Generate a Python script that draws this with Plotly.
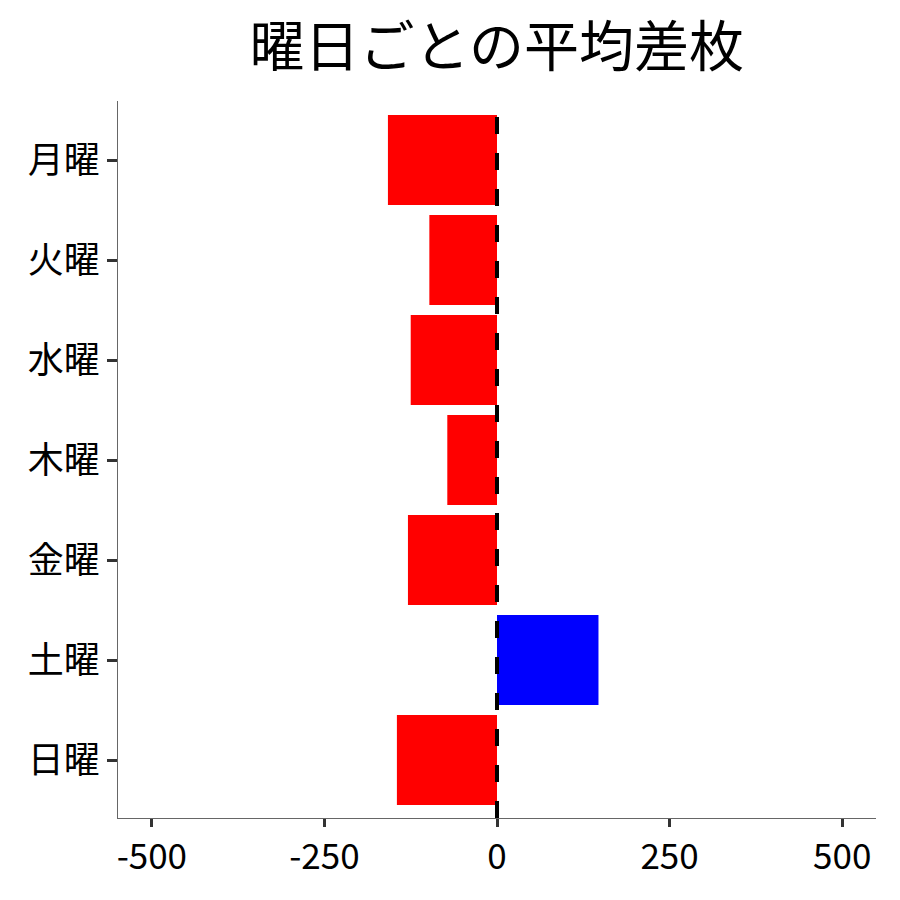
import plotly.graph_objects as go

days = ["月曜", "火曜", "水曜", "木曜", "金曜", "土曜", "日曜"]
avg_diff = [-158, -98, -125, -72, -129, 147, -145]
x_ticks = [-500, -250, 0, 250, 500]
title_text = "曜日ごとの平均差枚"

colors = ["blue" if v > 0 else "red" for v in avg_diff]

FONT = "Noto Sans CJK JP"

fig = go.Figure()
fig.add_trace(go.Bar(
    x=avg_diff, y=days, orientation="h",
    marker=dict(color=colors, line=dict(width=0)),
    width=0.9,
))
fig.add_shape(type="line", x0=0, x1=0, xref="x", y0=0, y1=1, yref="paper",
              line=dict(color="black", width=4, dash="17px,19px"))

fig.update_layout(
    width=900, height=900,
    paper_bgcolor="white", plot_bgcolor="white",
    margin=dict(l=110, r=32, t=93, b=90),
    font=dict(family=FONT, color="black"),
    title=dict(text=title_text, x=0.543, xanchor="center", yref="container",
               y=0.957, yanchor="middle",
               font=dict(size=55, family=FONT, color="black")),
    showlegend=False,
    bargap=0.1,
)
fig.update_xaxes(
    range=[-549, 549], tickvals=x_ticks, ticktext=[str(v) for v in x_ticks],
    showgrid=False, zeroline=False,
    showline=True, linecolor="#666666", linewidth=1,
    ticks="outside", ticklen=8, tickwidth=3, tickcolor="#333333",
    tickfont=dict(size=35, family=FONT, color="black"),
)
fig.update_yaxes(
    categoryorder="array", categoryarray=days, autorange=False, range=[6.58, -0.59],
    showgrid=False, zeroline=False,
    showline=True, linecolor="#666666", linewidth=1,
    ticks="outside", ticklen=10, tickwidth=3, tickcolor="#333333",
    tickfont=dict(size=36, family=FONT, color="black"),
)

fig.write_html("out.html")
